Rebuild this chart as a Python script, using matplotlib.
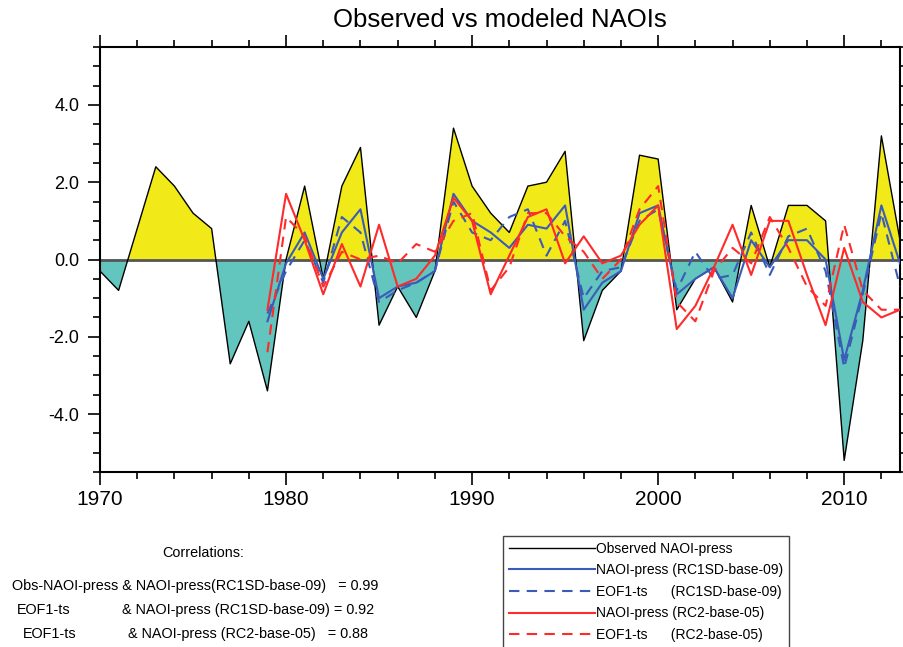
"""
Observed vs modeled NAOI time series
"""
import numpy as np
import matplotlib.pyplot as plt
from matplotlib.ticker import MultipleLocator

plt.rcParams['font.family'] = ['Liberation Sans', 'DejaVu Sans']

years_obs = list(range(1970, 2014))
obs_naoi = [-0.3, -0.8, 0.8, 2.4, 1.9, 1.2, 0.8, -2.7, -1.6, -3.4,
            0.0, 1.9, -0.5, 1.9, 2.9, -1.7, -0.7, -1.5, -0.3, 3.4,
            1.9, 1.2, 0.7, 1.9, 2.0, 2.8, -2.1, -0.8, -0.3, 2.7,
            2.6, -1.3, -0.5, -0.2, -1.1, 1.4, -0.2, 1.4, 1.4, 1.0,
            -5.2, -2.1, 3.2, 0.5]

years_mod = list(range(1979, 2014))
naoi_rc1sd = [-1.6, -0.1, 0.7, -0.5, 0.7, 1.3, -1.0, -0.7, -0.6, -0.3,
              1.7, 1.0, 0.7, 0.3, 0.9, 0.8, 1.4, -1.3, -0.6, -0.3,
              1.2, 1.4, -0.9, -0.5, -0.2, -1.0, 0.5, -0.2, 0.5, 0.5,
              0.0, -2.6, -0.8, 1.4, -0.1]
eof_rc1sd = [-1.4, -0.3, 0.5, -0.6, 1.1, 0.7, -1.1, -0.8, -0.6, -0.3,
             1.5, 0.7, 0.5, 1.1, 1.3, 0.1, 1.0, -1.0, -0.3, -0.2,
             1.0, 1.3, -0.8, 0.2, -0.5, -0.4, 0.7, -0.4, 0.6, 0.8,
             -0.3, -2.8, -0.9, 1.2, -0.7]
naoi_rc2 = [-1.3, 1.7, 0.5, -0.9, 0.4, -0.7, 0.9, -0.7, -0.5, 0.1,
            1.6, 1.0, -0.9, 0.1, 1.1, 1.3, -0.1, 0.6, -0.1, 0.1,
            0.9, 1.4, -1.8, -1.2, -0.2, 0.9, -0.4, 1.0, 1.0, -0.4,
            -1.7, 0.3, -1.1, -1.5, -1.3]
eof_rc2 = [-2.4, 1.1, 0.6, -0.7, 0.2, 0.0, 0.1, -0.1, 0.4, 0.2,
           1.0, 1.2, -0.8, -0.2, 1.2, 1.2, 0.6, 0.2, -0.5, 0.0,
           1.3, 1.9, -1.1, -1.6, -0.3, 0.3, -0.1, 1.1, 0.3, -0.7,
           -1.2, 0.9, -0.8, -1.3, -1.3]

y_ticks = [-4, -2, 0, 2, 4]
y_ticklabels = ['-4.0', '-2.0', '0.0', '2.0', '4.0']

labels = ['Observed NAOI-press',
          'NAOI-press (RC1SD-base-09)',
          'EOF1-ts      (RC1SD-base-09)',
          'NAOI-press (RC2-base-05)',
          'EOF1-ts      (RC2-base-05)']

W, H = 904, 647
fig = plt.figure(figsize=(W / 100, H / 100), dpi=100)
ax = fig.add_axes([100 / W, 1 - 472 / H, 800 / W, 425 / H])

x = np.array(years_obs, dtype=float)
y = np.array(obs_naoi)
ax.fill_between(x, y, 0, where=y >= 0, interpolate=True, color='#f2ea18', lw=0)
ax.fill_between(x, y, 0, where=y <= 0, interpolate=True, color='#62c5be', lw=0)
ax.axhline(0, color='#555555', lw=2, zorder=2)

blue = '#3a5cb8'
red = '#ff2a2a'
h = []
h += ax.plot(years_obs, obs_naoi, color='black', lw=1.0, zorder=3)
h += ax.plot(years_mod, naoi_rc1sd, color=blue, lw=1.5, zorder=4)
h += ax.plot(years_mod, eof_rc1sd, color=blue, lw=1.5, ls=(0, (5, 3.5)), zorder=4)
h += ax.plot(years_mod, naoi_rc2, color=red, lw=1.5, zorder=5)
h += ax.plot(years_mod, eof_rc2, color=red, lw=1.5, ls=(0, (5, 3.5)), zorder=5)

ax.set_xlim(1970, 2013)
ax.set_ylim(-5.5, 5.5)
ax.xaxis.set_major_locator(MultipleLocator(10))
ax.xaxis.set_minor_locator(MultipleLocator(2))
ax.yaxis.set_minor_locator(MultipleLocator(0.5))
ax.set_yticks(y_ticks)
ax.set_yticklabels(y_ticklabels)
ax.tick_params(which='both', direction='out', top=True, right=True, width=1.2)
ax.tick_params(which='major', length=9)
ax.tick_params(which='minor', length=5)
ax.tick_params(axis='y', labelsize=13, pad=6)
ax.tick_params(axis='x', labelsize=15, pad=4)
for s in ax.spines.values():
    s.set_linewidth(1.5)

fig.text(500 / W, 1 - 20 / H, 'Observed vs modeled NAOIs', ha='center', va='center', fontsize=18.5)

# correlation block
fs = 10.4
fig.text(203 / W, 1 - 553 / H, 'Correlations:', ha='center', va='center', fontsize=fs)
fig.text(12 / W, 1 - 586 / H, 'Obs-NAOI-press & NAOI-press(RC1SD-base-09)   = 0.99',
         va='center', fontsize=fs)
fig.text(17 / W, 1 - 610 / H, 'EOF1-ts', va='center', fontsize=fs)
fig.text(122 / W, 1 - 610 / H, '& NAOI-press (RC1SD-base-09) = 0.92', va='center', fontsize=fs)
fig.text(23 / W, 1 - 634 / H, 'EOF1-ts', va='center', fontsize=fs)
fig.text(128 / W, 1 - 634 / H, '& NAOI-press (RC2-base-05)   = 0.88', va='center', fontsize=fs)

leg = fig.legend(h, labels, loc='upper left', bbox_to_anchor=(503 / W, 1 - 536 / H),
                 fontsize=10, handlelength=6.2, handletextpad=0.1, labelspacing=0.55,
                 borderpad=0.4, borderaxespad=0, fancybox=False, framealpha=1)
leg.get_frame().set_edgecolor('#444444')
leg.get_frame().set_linewidth(1.0)

fig.savefig('out.png', dpi=100)
